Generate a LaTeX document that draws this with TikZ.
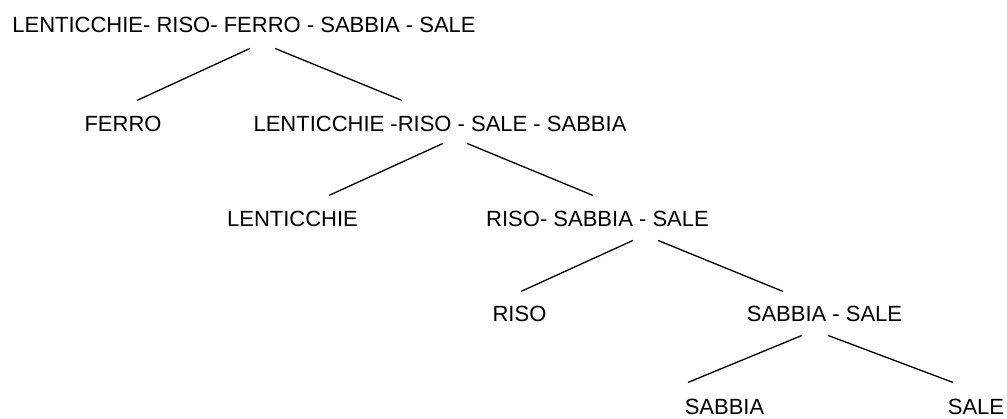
\documentclass[tikz,border=0pt]{standalone}
\usepackage{fontspec}
\setmainfont{Liberation Sans}
\begin{document}
\begin{tikzpicture}[x=1pt,y=-1pt,
  lbl/.style={anchor=base,inner sep=0pt,font=\fontsize{22}{26}\selectfont},
  branch/.style={line width=1.3pt}]
\useasboundingbox (0,0) rectangle (1007,419);
%%%MIXTURES
\node[lbl] (all) at (244,33) {LENTICCHIE- RISO- FERRO - SABBIA - SALE};
\node[lbl] (ferro) at (123,132) {FERRO};
\node[lbl] (lrss) at (440,132) {LENTICCHIE -RISO - SALE - SABBIA};
\node[lbl] (lent) at (292.5,227) {LENTICCHIE};
\node[lbl] (rss) at (597.5,227) {RISO- SABBIA - SALE};
\node[lbl] (riso) at (519.5,322) {RISO};
\node[lbl] (ss) at (824.5,322) {SABBIA - SALE};
\node[lbl] (sabbia) at (724.5,415) {SABBIA};
\node[lbl] (sale) at (976,415) {SALE};
%%%SEPARATIONS
\draw[branch] ([xshift=6pt,yshift=-15pt]all.south) -- ([xshift=14pt,yshift=16pt]ferro.north);
\draw[branch] ([xshift=31pt,yshift=-15pt]all.south) -- ([xshift=-38pt,yshift=16pt]lrss.north);
\draw[branch] ([xshift=3pt,yshift=-11pt]lrss.south) -- ([xshift=36.5pt,yshift=16pt]lent.north);
\draw[branch] ([xshift=27pt,yshift=-11pt]lrss.south) -- ([xshift=-4.5pt,yshift=16pt]rss.north);
\draw[branch] ([xshift=35.5pt,yshift=-13pt]rss.south) -- ([xshift=1.5pt,yshift=15pt]riso.north);
\draw[branch] ([xshift=60.5pt,yshift=-13pt]rss.south) -- ([xshift=-41.5pt,yshift=15pt]ss.north);
\draw[branch] ([xshift=-22.5pt,yshift=-13pt]ss.south) -- ([xshift=-36.5pt,yshift=17pt]sabbia.north);
\draw[branch] ([xshift=3.5pt,yshift=-13pt]ss.south) -- ([xshift=-23pt,yshift=17pt]sale.north);
\end{tikzpicture}
\end{document}
